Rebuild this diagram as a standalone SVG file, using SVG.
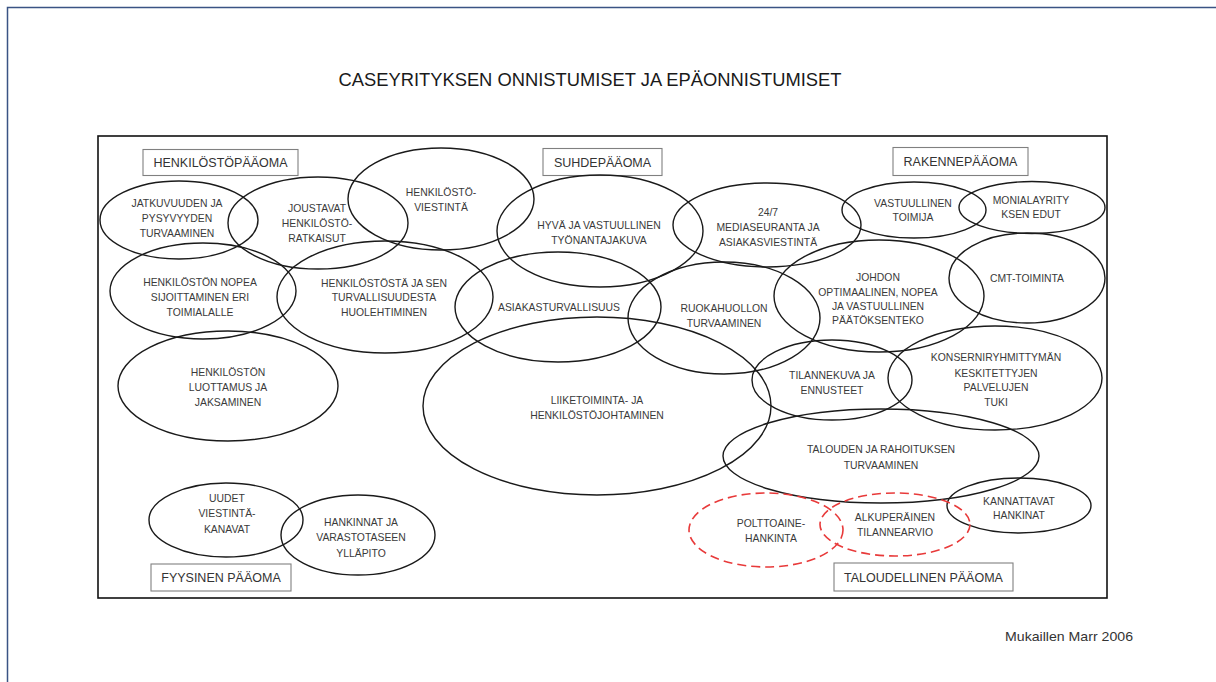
<svg xmlns="http://www.w3.org/2000/svg" width="1216" height="682" viewBox="0 0 1216 682">
  <style>
    .page { fill: #ffffff; }
    .frame { fill: none; stroke: #3a5384; stroke-width: 1.5; }
    .panel { fill: none; stroke: #111111; stroke-width: 1.6; }
    .node { fill: none; stroke: #1a1a1a; stroke-width: 1.4; }
    .risk { fill: none; stroke: #e83a3a; stroke-width: 1.6; stroke-dasharray: 9 5; }
    .cap { fill: #ffffff; stroke: #808080; stroke-width: 1.1; }
    text { font-family: "Liberation Sans", Arial, sans-serif; fill: #3a3a3a; text-anchor: middle; }
    .t { font-size: 10.4px; }
    .c { font-size: 12.5px; fill: #333333; }
    .title { font-size: 17.5px; fill: #1a1a1a; }
    .src { font-size: 13.5px; fill: #333333; text-anchor: start; }
  </style>

  <rect class="page" x="0" y="0" width="1216" height="682"/>
  <rect class="frame" x="7.5" y="7.5" width="1230" height="700"/>

  <text class="title" x="590" y="86" textLength="503" lengthAdjust="spacingAndGlyphs">CASEYRITYKSEN ONNISTUMISET JA EPÄONNISTUMISET</text>

  <rect class="panel" x="98" y="136" width="1009" height="462"/>

  <!-- capital categories -->
  <g id="cap-henkilosto">
    <rect class="cap" x="143" y="149.5" width="155" height="26"/>
    <text class="c" x="220.5" y="167">HENKILÖSTÖPÄÄOMA</text>
  </g>
  <g id="cap-suhde">
    <rect class="cap" x="543" y="148.5" width="119" height="27"/>
    <text class="c" x="602.5" y="166.5">SUHDEPÄÄOMA</text>
  </g>
  <g id="cap-rakenne">
    <rect class="cap" x="893" y="147.5" width="135" height="28"/>
    <text class="c" x="960.5" y="166">RAKENNEPÄÄOMA</text>
  </g>
  <g id="cap-fyysinen">
    <rect class="cap" x="151" y="564" width="140" height="27"/>
    <text class="c" x="221" y="582">FYYSINEN PÄÄOMA</text>
  </g>
  <g id="cap-taloudellinen">
    <rect class="cap" x="834" y="563" width="179" height="28"/>
    <text class="c" x="923.5" y="581.5">TALOUDELLINEN PÄÄOMA</text>
  </g>

  <!-- human capital -->
  <g id="jatkuvuus">
    <ellipse class="node" cx="179" cy="220" rx="79" ry="39"/>
    <text class="t" x="177" y="207">JATKUVUUDEN JA</text>
    <text class="t" x="177" y="222">PYSYVYYDEN</text>
    <text class="t" x="177" y="237">TURVAAMINEN</text>
  </g>
  <g id="joustavat">
    <ellipse class="node" cx="318" cy="223" rx="90" ry="46"/>
    <text class="t" x="317" y="212">JOUSTAVAT</text>
    <text class="t" x="317" y="227">HENKILÖSTÖ-</text>
    <text class="t" x="317" y="242">RATKAISUT</text>
  </g>
  <g id="viestinta">
    <ellipse class="node" cx="441" cy="199" rx="93" ry="51"/>
    <text class="t" x="441" y="196">HENKILÖSTÖ-</text>
    <text class="t" x="441" y="211">VIESTINTÄ</text>
  </g>
  <g id="sijoittaminen">
    <ellipse class="node" cx="203" cy="291" rx="93" ry="48"/>
    <text class="t" x="200" y="286">HENKILÖSTÖN NOPEA</text>
    <text class="t" x="200" y="301">SIJOITTAMINEN ERI</text>
    <text class="t" x="200" y="316">TOIMIALALLE</text>
  </g>
  <g id="huolehtiminen">
    <ellipse class="node" cx="385" cy="297" rx="108" ry="56"/>
    <text class="t" x="384" y="287">HENKILÖSTÖSTÄ JA SEN</text>
    <text class="t" x="384" y="301">TURVALLISUUDESTA</text>
    <text class="t" x="384" y="316">HUOLEHTIMINEN</text>
  </g>
  <g id="jaksaminen">
    <ellipse class="node" cx="228" cy="386" rx="110" ry="55"/>
    <text class="t" x="228" y="376">HENKILÖSTÖN</text>
    <text class="t" x="228" y="391">LUOTTAMUS JA</text>
    <text class="t" x="228" y="406">JAKSAMINEN</text>
  </g>

  <!-- relational capital -->
  <g id="tyonantajakuva">
    <ellipse class="node" cx="600" cy="231" rx="103" ry="56"/>
    <text class="t" x="599" y="229">HYVÄ JA VASTUULLINEN</text>
    <text class="t" x="599" y="244">TYÖNANTAJAKUVA</text>
  </g>
  <g id="mediaseuranta">
    <ellipse class="node" cx="767" cy="225" rx="94" ry="42"/>
    <text class="t" x="768" y="216">24/7</text>
    <text class="t" x="768" y="231">MEDIASEURANTA JA</text>
    <text class="t" x="768" y="246">ASIAKASVIESTINTÄ</text>
  </g>
  <g id="asiakasturvallisuus">
    <ellipse class="node" cx="558" cy="307" rx="103" ry="55"/>
    <text class="t" x="559" y="311">ASIAKASTURVALLISUUS</text>
  </g>
  <g id="ruokahuolto">
    <ellipse class="node" cx="724" cy="318" rx="96" ry="56"/>
    <text class="t" x="724" y="312">RUOKAHUOLLON</text>
    <text class="t" x="724" y="327">TURVAAMINEN</text>
  </g>
  <g id="johtaminen">
    <ellipse class="node" cx="597" cy="406" rx="174" ry="89"/>
    <text class="t" x="597" y="404">LIIKETOIMINTA- JA</text>
    <text class="t" x="597" y="419">HENKILÖSTÖJOHTAMINEN</text>
  </g>

  <!-- structural capital -->
  <g id="toimija">
    <ellipse class="node" cx="914" cy="210" rx="72" ry="28"/>
    <text class="t" x="913" y="207">VASTUULLINEN</text>
    <text class="t" x="913" y="221">TOIMIJA</text>
  </g>
  <g id="monialayritys">
    <ellipse class="node" cx="1032" cy="207.5" rx="73" ry="26"/>
    <text class="t" x="1031" y="204">MONIALAYRITY</text>
    <text class="t" x="1031" y="218">KSEN EDUT</text>
  </g>
  <g id="paatoksenteko">
    <ellipse class="node" cx="879" cy="296" rx="105" ry="56"/>
    <text class="t" x="878" y="281">JOHDON</text>
    <text class="t" x="878" y="296">OPTIMAALINEN, NOPEA</text>
    <text class="t" x="878" y="310">JA VASTUULLINEN</text>
    <text class="t" x="878" y="324">PÄÄTÖKSENTEKO</text>
  </g>
  <g id="cmt">
    <ellipse class="node" cx="1027" cy="278" rx="78" ry="45"/>
    <text class="t" x="1027" y="282">CMT-TOIMINTA</text>
  </g>
  <g id="tilannekuva">
    <ellipse class="node" cx="832" cy="380" rx="80" ry="40"/>
    <text class="t" x="832" y="379">TILANNEKUVA JA</text>
    <text class="t" x="832" y="394">ENNUSTEET</text>
  </g>
  <g id="konserni">
    <ellipse class="node" cx="995" cy="378" rx="107" ry="52"/>
    <text class="t" x="996" y="361">KONSERNIRYHMITTYMÄN</text>
    <text class="t" x="996" y="377">KESKITETTYJEN</text>
    <text class="t" x="996" y="391">PALVELUJEN</text>
    <text class="t" x="996" y="406">TUKI</text>
  </g>

  <!-- financial capital -->
  <g id="rahoitus">
    <ellipse class="node" cx="881" cy="456" rx="158" ry="47"/>
    <text class="t" x="881" y="453">TALOUDEN JA RAHOITUKSEN</text>
    <text class="t" x="881" y="469">TURVAAMINEN</text>
  </g>
  <g id="hankinnat-kannattavat">
    <ellipse class="node" cx="1019" cy="505.5" rx="72" ry="27.5"/>
    <text class="t" x="1019" y="505">KANNATTAVAT</text>
    <text class="t" x="1019" y="519">HANKINAT</text>
  </g>
  <g id="polttoaine">
    <ellipse class="risk" cx="766" cy="530" rx="77" ry="37"/>
    <text class="t" x="771" y="527">POLTTOAINE-</text>
    <text class="t" x="771" y="542">HANKINTA</text>
  </g>
  <g id="tilannearvio">
    <ellipse class="risk" cx="895" cy="524.5" rx="75" ry="31.5"/>
    <text class="t" x="895" y="521">ALKUPERÄINEN</text>
    <text class="t" x="895" y="536">TILANNEARVIO</text>
  </g>

  <!-- physical capital -->
  <g id="viestintakanavat">
    <ellipse class="node" cx="226" cy="520" rx="77" ry="37"/>
    <text class="t" x="227" y="502">UUDET</text>
    <text class="t" x="227" y="517">VIESTINTÄ-</text>
    <text class="t" x="227" y="533">KANAVAT</text>
  </g>
  <g id="varastotase">
    <ellipse class="node" cx="358" cy="535" rx="77" ry="40"/>
    <text class="t" x="361" y="526">HANKINNAT JA</text>
    <text class="t" x="361" y="541">VARASTOTASEEN</text>
    <text class="t" x="361" y="557">YLLÄPITO</text>
  </g>

  <g id="connectors"/>

  <text class="src" x="1005" y="641" textLength="128" lengthAdjust="spacingAndGlyphs">Mukaillen Marr 2006</text>
</svg>
